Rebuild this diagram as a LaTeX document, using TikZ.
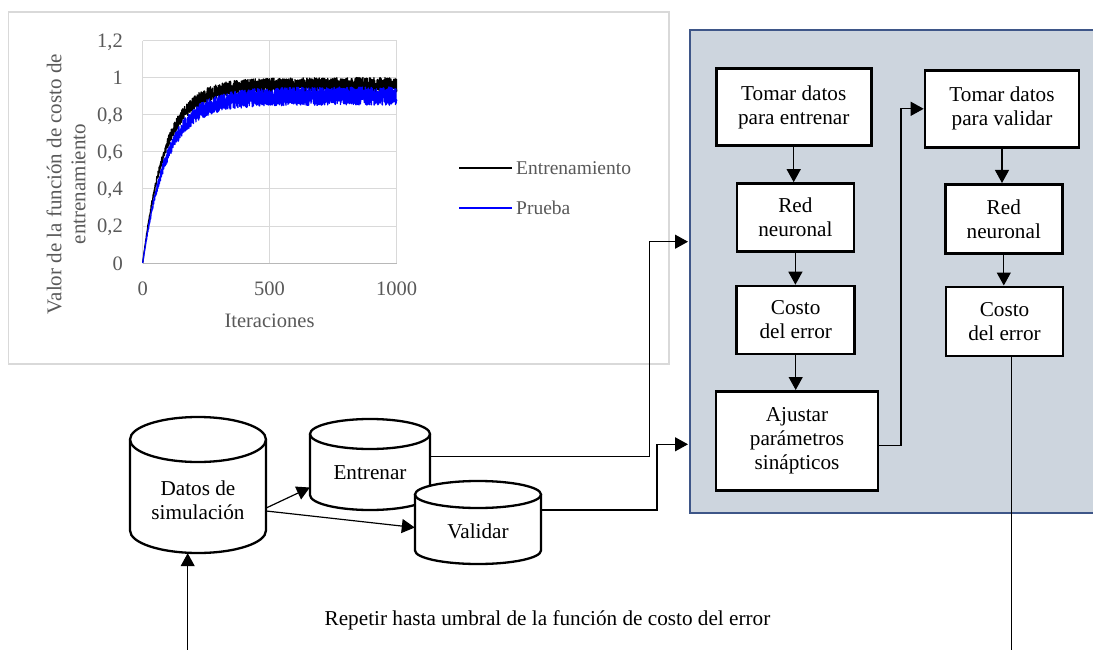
\documentclass[tikz,border=0pt]{standalone}
\usepackage{fontspec}
\setmainfont{Liberation Serif}
\usetikzlibrary{arrows.meta,calc}
\definecolor{panel}{RGB}{205,213,222}
\definecolor{panelb}{RGB}{62,86,136}
\definecolor{axgray}{RGB}{89,89,89}
\definecolor{gridc}{RGB}{217,217,217}
\definecolor{pblue}{RGB}{0,0,255}
\begin{document}
\begin{tikzpicture}[x=1pt,y=-1pt,
  font=\fontsize{21.2}{24}\selectfont,
  procbox/.style={draw=black,line width=2.6pt,fill=white,align=center,inner sep=0pt},
  cylline/.style={draw=black,line width=2.3pt},
  conn/.style={draw=black,line width=1.2pt,-{Triangle[width=14pt,length=13pt]}},
  plainconn/.style={draw=black,line width=1.2pt},
  ghost/.style={draw=none,inner sep=0pt},
  ctext/.style={align=center,inner sep=0pt},
  axlab/.style={text=axgray,font=\fontsize{20.5}{24}\selectfont,inner sep=0pt},
  gridl/.style={draw=gridc,line width=1pt}]
\useasboundingbox (0,0) rectangle (1093,650);
\clip (0,0) rectangle (1093,650);
\fill[white] (0,0) rectangle (1093,650);

% ---------------- chart ----------------
\draw[gridc,line width=1.3pt] (8.5,12) rectangle (669,364);
\foreach \yy in {41,78,115,152,189,226}{\draw[gridl] (142.7,\yy) -- (396.7,\yy);}
\foreach \xx in {142.7,269.5,396.7}{\draw[gridl] (\xx,41) -- (\xx,263);}
\draw[draw=gridc!85!black,line width=1pt] (142.7,263) -- (396.7,263);
\foreach \v/\yy in {0/263,{0,2}/226,{0,4}/189,{0,6}/152,{0,8}/115,1/78,{1,2}/41}{
  \node[axlab,anchor=base east] at (123,\yy+7) {\v};}
\node[axlab,anchor=base] (xt0) at (142.7,295) {0};
\node[axlab,anchor=base] (xt500) at (269.5,295) {500};
\node[axlab,anchor=base] (xt1000) at (396.7,295) {1000};
\node[axlab,anchor=base] (xtitle) at (269.5,327) {Iteraciones};
\node[axlab,align=center,rotate=90,font=\fontsize{21}{24}\selectfont] (ytitle) at (66,184) {Valor de la función de costo de\\entrenamiento};
\begin{scope}[shift={(142.7,263)},x=0.254pt,y=185pt]
  \pgfmathsetseed{11}
  \draw[black,line width=1.3pt,line join=round] plot[samples=1800,domain=0:1000]
    (\x,{0.962*(1-exp(-\x/88))*(1+0.042*(2*rnd-1))});
  \draw[pblue,line width=1.3pt,line join=round] plot[samples=1800,domain=0:1000]
    (\x,{0.902*(1-exp(-\x/95))*(1+0.055*(2*rnd-1))});
\end{scope}
\draw[black,line width=2.2pt] (459,168.3) -- (511.7,168.3);
\draw[pblue,line width=2.2pt] (459,207.7) -- (511.7,207.7);
\node[axlab,anchor=west,font=\fontsize{19.5}{24}\selectfont] (legE) at (516,168.3) {Entrenamiento};
\node[axlab,anchor=west,font=\fontsize{19.5}{24}\selectfont] (legP) at (516,207.7) {Prueba};

% ---------------- panel ----------------
\draw[fill=panel,draw=panelb,line width=2pt] (690,30) rectangle (1110,512.7);

\node[procbox,minimum width=155pt,minimum height=77pt] (tomarE) at (793.7,107.2) {Tomar datos\\para entrenar};
\node[procbox,minimum width=117pt,minimum height=68pt] (redE) at (795.4,217.5) {Red\\neuronal};
\node[procbox,minimum width=118pt,minimum height=68pt] (costoE) at (795.7,320) {Costo\\del error};
\node[procbox,minimum width=162pt,minimum height=99pt] (ajustar) at (797,440.8) {Ajustar\\parámetros\\sinápticos};
\node[procbox,minimum width=154pt,minimum height=77pt] (tomarV) at (1002,108.8) {Tomar datos\\para validar};
\node[procbox,minimum width=117pt,minimum height=69pt] (redV) at (1003.8,218.8) {Red\\neuronal};
\node[procbox,minimum width=117pt,minimum height=69pt] (costoV) at (1004.5,321.3) {Costo\\del error};

\draw[conn] (tomarE.south) -- (tomarE.south |- redE.north);
\draw[conn] (redE.south) -- (redE.south |- costoE.north);
\draw[conn] (costoE.south) -- (costoE.south |- ajustar.north);
\draw[conn] (tomarV.south) -- (tomarV.south |- redV.north);
\draw[conn] (redV.south) -- (redV.south |- costoV.north);
\draw[conn] ([yshift=-5pt]ajustar.east) -- ++(21.7,0) |- (tomarV.west);

% ---------------- cylinders ----------------
\draw[cylline,fill=white] (130,439.5) -- (130,530.5) arc[start angle=180,end angle=360,x radius=68pt,y radius=22.5pt] -- (266,439.5);
\draw[cylline,fill=white] (198,439.5) ellipse[x radius=68pt,y radius=22.5pt];
\node[ghost,minimum width=136pt,minimum height=136pt] (datos) at (198,485) {};
\node[ctext] (datosT) at (198,500) {Datos de\\simulación};

\draw[cylline,fill=white] (310,434) -- (310,495) arc[start angle=180,end angle=360,x radius=60pt,y radius=15pt] -- (430,434);
\draw[cylline,fill=white] (370,434) ellipse[x radius=60pt,y radius=15pt];
\node[ghost,minimum width=120pt,minimum height=91pt] (entr) at (370,464.5) {};
\node[ctext] (entrT) at (370,473) {Entrenar};

\draw[cylline,fill=white] (415,494.5) -- (415,550.5) arc[start angle=180,end angle=360,x radius=63pt,y radius=13.5pt] -- (541,494.5);
\draw[cylline,fill=white] (478,494.5) ellipse[x radius=63pt,y radius=13.5pt];
\node[ghost,minimum width=126pt,minimum height=83pt] (val) at (478,522.5) {};
\node[ctext] (valT) at (478,531) {Validar};

% ---------------- connectors ----------------
\coordinate (inE) at (688,241.7);
\coordinate (inV) at (688,444.3);
\coordinate (loopR) at (1011.7,650);
\coordinate (loopL) at (187.7,650);

\draw[conn] ([yshift=-23pt]datos.east) -- ([yshift=-23pt]entr.west);
\draw[conn] ([yshift=-26pt]datos.east) -- ([yshift=-5pt]val.west);
\draw[conn] ([yshift=8pt]entr.east) -| (649.3,241.7) -- (inE);
\draw[conn] ([yshift=12.5pt]val.east) -| (657,444.3) -- (inV);
\draw[plainconn] ([xshift=7.2pt]costoV.south) -- (loopR);
\draw[conn] (loopL) -- (loopL |- datos.south);

\node[anchor=base] (rep) at (547.5,625) {Repetir hasta umbral de la función de costo del error};
\end{tikzpicture}
\end{document}
